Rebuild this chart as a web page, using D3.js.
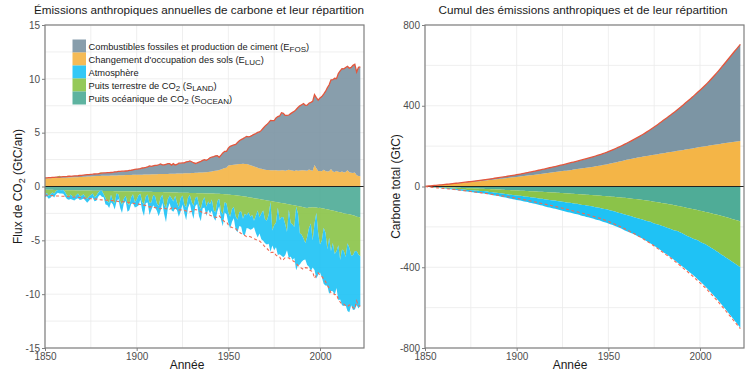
<!DOCTYPE html>
<html><head><meta charset="utf-8">
<script src="https://cdn.jsdelivr.net/npm/d3@7"></script>
<style>body{margin:0;background:#fff} svg{font-family:"Liberation Sans",Arial,sans-serif}</style>
</head><body><svg id="c" width="750" height="375"></svg>
<script>
const startYear = 1850;
// Annual fluxes (GtC/an), 1850..2022
const efos = [
0.05,0.05,0.06,0.06,0.07,0.07,0.08,0.08,0.08,0.09,
0.09,0.10,0.10,0.11,0.11,0.12,0.12,0.13,0.13,0.14,
0.15,0.16,0.17,0.18,0.18,0.19,0.19,0.20,0.20,0.21,
0.24,0.25,0.26,0.27,0.27,0.27,0.28,0.29,0.33,0.33,
0.36,0.37,0.37,0.37,0.38,0.40,0.42,0.44,0.47,0.51,
0.53,0.55,0.57,0.62,0.62,0.66,0.71,0.79,0.74,0.79,
0.82,0.83,0.87,0.94,0.85,0.84,0.89,0.95,0.94,0.81,
0.93,0.81,0.85,0.97,0.96,0.98,0.98,1.06,1.07,1.14,
1.05,0.95,0.87,0.91,0.98,1.03,1.12,1.18,1.10,1.18,
1.30,1.34,1.35,1.39,1.38,1.19,1.32,1.47,1.56,1.51,
1.63,1.76,1.80,1.84,1.87,2.03,2.17,2.26,2.33,2.45,
2.58,2.58,2.68,2.83,2.99,3.12,3.29,3.39,3.57,3.81,
4.05,4.21,4.40,4.62,4.61,4.60,4.87,5.01,5.07,5.33,
5.29,5.15,5.10,5.09,5.25,5.40,5.53,5.65,5.87,6.00,
6.10,6.19,6.06,6.09,6.16,6.32,6.45,6.53,6.55,6.58,
6.78,6.93,7.03,7.39,7.77,8.03,8.29,8.52,8.70,8.57,
9.11,9.41,9.55,9.63,9.71,9.67,9.67,9.78,10.00,10.05,
9.58,10.10,10.16];
const eluc = [
0.75,0.76,0.76,0.77,0.78,0.78,0.79,0.80,0.80,0.81,
0.82,0.82,0.83,0.84,0.84,0.85,0.86,0.86,0.87,0.88,
0.89,0.90,0.91,0.92,0.93,0.94,0.95,0.96,0.97,0.97,
0.98,0.99,1.00,1.00,1.01,1.01,1.02,1.02,1.03,1.03,
1.04,1.04,1.05,1.05,1.06,1.06,1.07,1.07,1.08,1.08,
1.09,1.09,1.10,1.10,1.11,1.11,1.12,1.12,1.13,1.13,
1.14,1.14,1.15,1.15,1.16,1.16,1.17,1.17,1.18,1.18,
1.19,1.19,1.20,1.20,1.21,1.21,1.22,1.22,1.23,1.23,
1.25,1.26,1.27,1.28,1.29,1.30,1.31,1.32,1.33,1.35,
1.37,1.40,1.43,1.46,1.49,1.53,1.59,1.65,1.71,1.75,
1.94,1.97,2.00,2.02,2.04,2.06,2.08,2.10,2.12,2.10,
2.08,2.04,1.98,1.92,1.86,1.80,1.74,1.68,1.64,1.60,
1.56,1.54,1.53,1.52,1.50,1.52,1.50,1.49,1.48,1.52,
1.50,1.46,1.50,1.55,1.52,1.48,1.45,1.50,1.47,1.49,
1.50,1.52,1.48,1.47,1.58,1.50,1.46,2.00,1.70,1.44,
1.45,1.42,1.55,1.44,1.40,1.42,1.62,1.40,1.35,1.45,
1.38,1.32,1.40,1.30,1.35,1.50,1.32,1.28,1.25,1.30,
1.05,0.98,0.95];
const socean = [
0.30,0.30,0.31,0.31,0.31,0.32,0.32,0.32,0.33,0.33,
0.33,0.34,0.34,0.34,0.35,0.35,0.35,0.36,0.36,0.36,
0.37,0.37,0.37,0.38,0.38,0.38,0.39,0.39,0.39,0.40,
0.40,0.40,0.41,0.41,0.41,0.42,0.42,0.42,0.43,0.43,
0.43,0.44,0.44,0.44,0.45,0.45,0.45,0.46,0.46,0.46,
0.47,0.47,0.47,0.48,0.48,0.48,0.49,0.49,0.49,0.50,
0.50,0.51,0.51,0.52,0.52,0.53,0.53,0.54,0.54,0.55,
0.55,0.56,0.56,0.57,0.57,0.58,0.58,0.59,0.59,0.60,
0.60,0.61,0.61,0.62,0.62,0.63,0.63,0.64,0.64,0.65,
0.65,0.66,0.66,0.67,0.67,0.68,0.69,0.70,0.71,0.72,
0.74,0.76,0.78,0.80,0.82,0.84,0.86,0.88,0.90,0.93,
0.96,0.99,1.02,1.05,1.08,1.11,1.14,1.17,1.20,1.23,
1.26,1.29,1.32,1.35,1.38,1.41,1.44,1.47,1.50,1.53,
1.56,1.59,1.62,1.66,1.69,1.72,1.75,1.78,1.82,1.85,
1.88,1.92,1.98,2.00,1.96,1.94,1.92,1.96,1.94,2.00,
1.98,2.02,2.04,2.10,2.12,2.16,2.20,2.24,2.28,2.32,
2.36,2.40,2.44,2.50,2.54,2.56,2.58,2.62,2.68,2.72,
2.80,2.84,2.88];
const sland = [
0.45,0.30,0.55,0.40,0.25,0.35,0.10,-0.08,-0.12,0.02,
-0.06,0.20,0.50,0.62,0.40,0.55,0.66,0.45,0.30,0.58,
0.48,0.35,0.60,0.75,0.52,0.40,0.25,0.62,0.48,0.18,
-0.08,-0.05,0.30,0.65,0.95,1.10,0.35,0.90,1.15,0.23,
0.30,0.95,1.25,0.70,0.40,1.10,1.30,0.55,0.25,1.00,
0.75,0.35,0.20,0.95,1.20,0.45,0.25,1.05,1.00,0.30,
0.40,1.05,1.30,0.55,0.25,1.15,1.50,0.65,0.30,0.55,
0.85,0.30,0.95,1.35,0.50,0.25,1.10,1.35,0.45,0.20,
0.85,1.20,0.45,0.30,1.10,1.45,0.70,0.35,1.25,0.75,
1.00,0.55,1.55,1.75,0.70,0.45,1.60,1.90,0.75,0.85,
1.70,2.05,1.30,1.10,1.95,2.25,1.50,1.45,2.10,1.60,
1.70,1.40,1.80,1.60,2.10,1.60,1.10,1.70,1.30,1.00,
1.80,1.90,1.30,0.10,2.70,2.20,1.90,0.50,1.60,1.30,
1.30,1.90,2.60,0.50,1.70,1.80,2.00,0.10,0.70,2.50,
2.60,2.90,3.30,2.70,1.90,1.50,3.10,1.50,0.50,2.30,
3.40,3.00,1.80,2.20,3.70,2.60,3.80,3.00,4.00,3.70,
3.10,4.40,3.40,3.50,4.00,2.70,3.10,3.80,3.70,3.30,
3.20,3.50,3.60];
const gatm = [
0.25,0.30,0.28,0.33,0.27,0.35,0.30,0.26,0.32,0.29,
0.34,0.38,0.31,0.28,0.40,0.33,0.30,0.36,0.42,0.32,
0.35,0.40,0.33,0.37,0.43,0.34,0.39,0.36,0.45,0.38,
0.36,0.55,0.30,0.62,0.35,0.48,0.70,0.32,0.55,0.75,
0.40,0.60,0.78,0.42,0.50,0.80,0.45,0.62,0.85,0.50,
0.65,0.95,0.55,0.80,1.05,0.60,0.75,1.10,0.70,0.95,
1.05,0.70,0.95,1.20,0.75,0.90,1.30,0.85,0.70,1.10,
0.95,1.15,0.70,0.90,1.25,0.85,0.80,1.20,0.95,0.75,
0.95,1.20,0.75,0.70,1.05,1.15,0.70,0.95,0.85,0.75,
0.85,1.05,0.70,0.75,0.95,0.70,0.80,1.10,0.95,1.00,
0.95,1.10,1.20,1.05,1.25,1.15,1.30,1.40,1.45,2.00,
1.20,1.50,1.20,1.30,0.60,1.60,2.50,1.50,2.40,2.80,
2.20,2.20,2.70,4.60,1.40,2.30,2.30,4.40,3.20,3.60,
3.70,2.90,1.70,4.50,3.10,3.30,2.90,5.90,4.80,2.90,
2.50,2.00,1.50,2.60,3.60,4.40,2.50,4.30,6.10,3.90,
2.60,3.40,5.20,4.90,3.40,5.20,3.70,4.50,3.80,3.40,
5.10,3.70,5.20,5.10,4.50,6.30,6.00,4.60,5.10,5.40,
5.00,5.00,4.60];

const xTicks = [1850, 1900, 1950, 2000];
const xGrid = [1850, 1875, 1900, 1925, 1950, 1975, 2000];
const leftYTicks = [-15, -10, -5, 0, 5, 10, 15];
const leftYGrid = [-15,-12.5,-10,-7.5,-5,-2.5,0,2.5,5,7.5,10,12.5,15];
const rightYTicks = [-800, -400, 0, 400, 800];
const rightYGrid = [-800,-600,-400,-200,0,200,400,600,800];
const legendItems = [
  {key:'efos',  text:'Combustibles fossiles et production de ciment (E', sub:'FOS', after:')'},
  {key:'eluc',  text:"Changement d'occupation des sols (E", sub:'LUC', after:')'},
  {key:'atm',   text:'Atmosphère', sub:'', after:''},
  {key:'land',  text:'Puits terrestre de CO', sub:'2', after:' (S', sub2:'LAND', after2:')'},
  {key:'ocean', text:'Puits océanique de CO', sub:'2', after:' (S', sub2:'OCEAN', after2:')'}
];

const colors = {efos:'#7791a0', eluc:'#f4b23f', atm:'#16c0f5', land:'#86c142', ocean:'#48a993'};
const red = '#e4563c';

const n = d3.min([efos, eluc, socean, sland, gatm], a => a.length);
const years = d3.range(n).map(i => startYear + i);

const annual = years.map((yr, i) => ({
  year: yr,
  eluc: eluc[i], efos: efos[i],
  landSrc: sland[i] < 0 ? -sland[i] : 0,
  ocean: -socean[i],
  landSink: sland[i] > 0 ? -sland[i] : 0,
  atm: -gatm[i],
  emis: efos[i] + eluc[i]
}));
const cE = d3.cumsum(efos.slice(0,n)), cL = d3.cumsum(eluc.slice(0,n)),
      cO = d3.cumsum(socean.slice(0,n)), cS = d3.cumsum(sland.slice(0,n)), cA = d3.cumsum(gatm.slice(0,n));
const cumul = years.map((yr, i) => ({
  year: yr, eluc: cL[i], efos: cE[i], ocean: -cO[i], land: -cS[i], atm: -cA[i], emis: cE[i] + cL[i]
}));

const svg = d3.select('#c');
const plotTop = 25, plotBottom = 348;
const xDomain = [1850, 2024];

function panel(cfg) {
  const g = svg.append('g');
  const x = d3.scaleLinear().domain(xDomain).range([cfg.left, cfg.right]);
  const y = d3.scaleLinear().domain(cfg.yDomain).range([plotBottom, plotTop]);
  g.append('g').selectAll('line').data(xGrid).join('line')
    .attr('x1', d => x(d)).attr('x2', d => x(d)).attr('y1', plotTop).attr('y2', plotBottom)
    .attr('stroke', '#ebebeb').attr('stroke-width', 0.8);
  g.append('g').selectAll('line').data(cfg.yGrid).join('line')
    .attr('x1', cfg.left).attr('x2', cfg.right).attr('y1', d => y(d)).attr('y2', d => y(d))
    .attr('stroke', '#ebebeb').attr('stroke-width', 0.8);
  const area = d3.area().x(d => x(d.data.year)).y0(d => y(d[0])).y1(d => y(d[1]));
  const pos = d3.stack().keys(cfg.posKeys)(cfg.rows);
  const neg = d3.stack().keys(cfg.negKeys)(cfg.rows);
  [...pos, ...neg].forEach(s => {
    g.append('path').datum(s).attr('d', area)
      .attr('fill', colors[cfg.colorOf[s.key]]).attr('fill-opacity', cfg.opacity);
  });
  g.append('line').attr('x1', cfg.left).attr('x2', cfg.right).attr('y1', y(0)).attr('y2', y(0))
    .attr('stroke', '#222').attr('stroke-width', 1.1);
  g.append('path').datum(cfg.rows)
    .attr('d', d3.line().x(d => x(d.year)).y(d => y(d.emis)))
    .attr('fill', 'none').attr('stroke', red).attr('stroke-width', 1.3);
  g.append('path').datum(cfg.rows)
    .attr('d', d3.line().x(d => x(d.year)).y(d => y(-d.emis)))
    .attr('fill', 'none').attr('stroke', '#f06b55').attr('stroke-width', 1.1).attr('stroke-dasharray', '3,2.5');
  g.append('rect').attr('x', cfg.left).attr('y', plotTop).attr('width', cfg.right - cfg.left).attr('height', plotBottom - plotTop)
    .attr('fill', 'none').attr('stroke', '#7f7f7f').attr('stroke-width', 1.2);
  const ax = g.append('g').attr('transform', `translate(0,${plotBottom})`)
    .call(d3.axisBottom(x).tickValues(xTicks).tickSize(3).tickPadding(2).tickFormat(d => String(d)));
  const ay = g.append('g').attr('transform', `translate(${cfg.left},0)`)
    .call(d3.axisLeft(y).tickValues(cfg.yTicks).tickSize(3).tickPadding(2).tickFormat(d => String(d)));
  [ax, ay].forEach(a => {
    a.select('.domain').remove();
    a.selectAll('line').attr('stroke', '#7f7f7f');
    a.selectAll('text').attr('fill', '#4d4d4d').attr('font-size', 10).attr('font-family', '"Liberation Sans",Arial,sans-serif');
  });
  g.append('text').attr('x', cfg.titleX).attr('y', 14).attr('text-anchor', 'middle')
    .attr('font-size', 11.7).attr('fill', '#1a1a1a').text(cfg.title);
  g.append('text').attr('x', cfg.xTitleX).attr('y', 369).attr('text-anchor', 'middle')
    .attr('font-size', 12).attr('fill', '#1a1a1a').text('Année');
  const yt = g.append('text').attr('transform', `translate(${cfg.yTitleX},186.5) rotate(-90)`)
    .attr('text-anchor', 'middle').attr('font-size', 12).attr('fill', '#1a1a1a');
  cfg.yTitle(yt);
  return {x, y, g};
}

panel({
  left: 45, right: 364, yDomain: [-15, 15], yTicks: leftYTicks, yGrid: leftYGrid,
  rows: annual, posKeys: ['eluc', 'efos', 'landSrc'], negKeys: ['ocean', 'landSink', 'atm'],
  colorOf: {eluc:'eluc', efos:'efos', landSrc:'land', ocean:'ocean', landSink:'land', atm:'atm'},
  opacity: 0.88,
  title: 'Émissions anthropiques annuelles de carbone et leur répartition', titleX: 199, xTitleX: 187,
  yTitleX: 22,
  yTitle: t => { t.append('tspan').text('Flux de CO'); t.append('tspan').attr('font-size', 9).attr('dy', 3).text('2');
                 t.append('tspan').attr('dy', -3).text(' (GtC/an)'); }
});
panel({
  left: 425, right: 744, yDomain: [-800, 800], yTicks: rightYTicks, yGrid: rightYGrid,
  rows: cumul, posKeys: ['eluc', 'efos'], negKeys: ['ocean', 'land', 'atm'],
  colorOf: {eluc:'eluc', efos:'efos', ocean:'ocean', land:'land', atm:'atm'},
  opacity: 0.96,
  title: 'Cumul des émissions anthropiques et de leur répartition', titleX: 583, xTitleX: 570,
  yTitleX: 400,
  yTitle: t => t.text('Carbone total (GtC)')
});

const lg = svg.append('g').attr('transform', 'translate(72.5,39.5)');
legendItems.forEach((it, i) => {
  const row = lg.append('g').attr('transform', `translate(0,${i * 13})`);
  row.append('rect').attr('width', 13.5).attr('height', 13).attr('fill', colors[it.key]).attr('fill-opacity', 0.88);
  const t = row.append('text').attr('x', 16).attr('y', 10).attr('font-size', 9.3).attr('fill', '#1a1a1a');
  t.append('tspan').text(it.text);
  if (it.sub) t.append('tspan').attr('font-size', 8).attr('dy', 2).text(it.sub);
  if (it.after) t.append('tspan').attr('dy', -2).text(it.after);
  if (it.sub2) t.append('tspan').attr('font-size', 8).attr('dy', 2).text(it.sub2);
  if (it.after2) t.append('tspan').attr('dy', -2).text(it.after2);
});
</script></body></html>
